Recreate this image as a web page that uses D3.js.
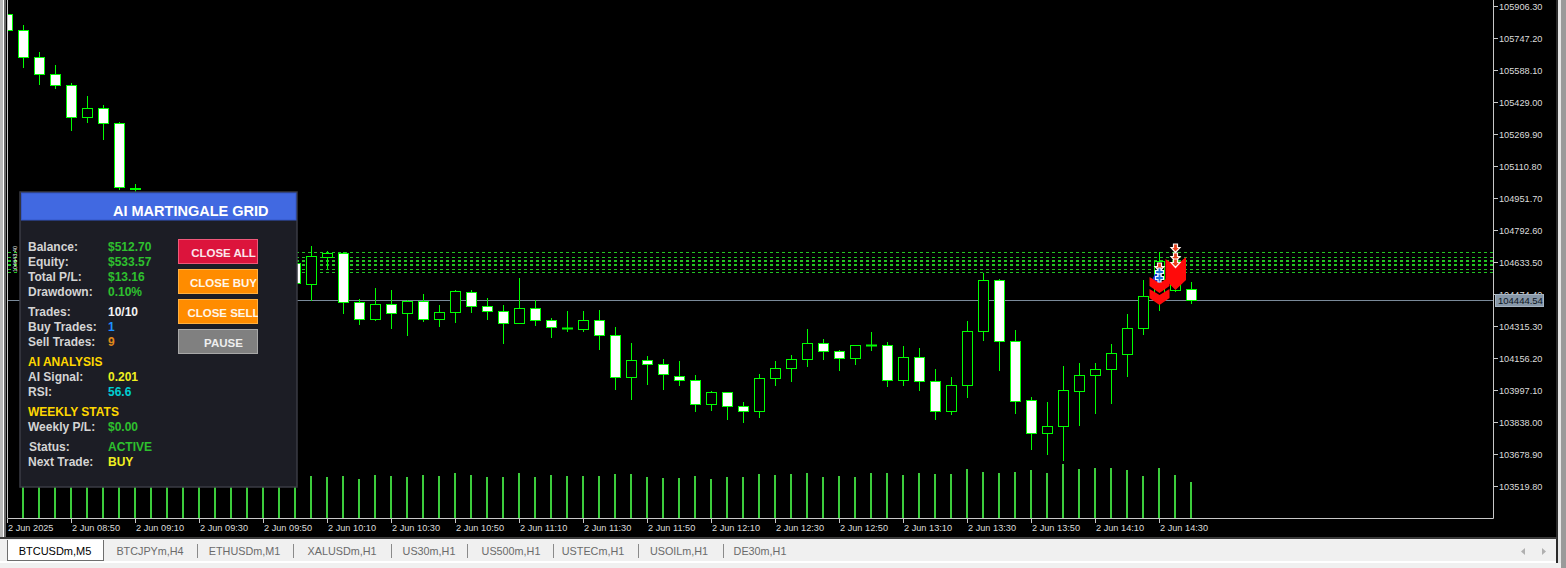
<!DOCTYPE html>
<html><head><meta charset="utf-8">
<script src="https://cdn.jsdelivr.net/npm/d3@7"></script>
<style>html,body{margin:0;padding:0;background:#f0f0f0;overflow:hidden}svg{display:block}</style>
</head><body><svg id="c" width="1566" height="568"></svg>
<script>
// ---------- DATA ----------
const symbolTitle = "BTCUSDm,M5";
const candleOpen = [105866.5,105787.0,105652.7,105568.2,105513.5,105354.4,105399.2,105324.6,104998.9,104966.6,
104916.9,104946.7,104812.5,104737.9,104777.7,104683.2,104713.1,104648.4,104628.5,104524.1,
104659.9,104678.3,104434.6,104350.1,104424.7,104379.9,104439.6,104350.1,104384.9,104484.3,
104414.7,104389.9,104330.2,104404.8,104345.1,104307.8,104301.9,104345.1,104270.6,104061.7,
104146.3,104126.4,104066.7,104046.8,103927.5,103987.2,103917.6,103892.7,104056.8,104106.5,
104151.2,104230.8,104191.0,104156.2,104220.8,104220.8,104046.8,104161.2,104041.9,103892.7,
104022.0,104290.4,104544.0,104240.7,103947.4,103783.3,103818.1,103992.1,104071.7,104101.5,
104176.1,104305.4,104464.5,104494.3,104499.3];
const candleHigh = [105876.5,105811.8,105677.6,105613.0,105523.5,105458.8,105414.1,105329.6,105021.3,104976.6,
104961.6,104956.7,104842.3,104802.5,104792.6,104742.9,104728.0,104693.2,104653.4,104713.1,
104688.2,104683.2,104449.5,104504.2,104494.3,104442.1,104474.4,104419.7,104494.3,104494.3,
104454.5,104419.7,104554.0,104444.6,104355.1,104389.9,104389.9,104394.9,104310.3,104230.8,
104166.1,104151.2,104141.3,104071.7,103992.1,103989.6,103937.4,104076.7,104141.3,104171.1,
104300.4,104250.7,104193.5,104223.3,104285.5,104235.8,104215.9,104205.9,104101.5,104061.7,
104340.2,104578.8,104549.0,104295.4,103962.3,103937.4,104116.4,104131.3,104131.3,104225.8,
104375.0,104544.0,104683.2,104683.2,104534.1];
const candleLow = [105782.0,105603.0,105518.5,105498.6,105289.8,105329.6,105245.0,104996.5,104916.9,104867.2,
104872.2,104782.7,104703.1,104713.1,104653.4,104663.3,104613.6,104603.7,104514.2,104444.6,
104603.7,104379.9,104325.2,104345.1,104305.4,104270.6,104340.2,104315.3,104335.2,104384.9,
104350.1,104230.8,104330.2,104320.3,104260.6,104290.4,104290.4,104201.0,104002.1,103952.4,
104026.9,104002.1,104022.0,103892.7,103897.7,103852.9,103838.0,103862.9,104022.0,104041.9,
104116.4,104151.2,104096.5,104126.4,104196.0,104017.0,104022.0,103997.1,103852.9,103877.8,
103962.3,104245.7,104096.5,103882.8,103703.8,103678.9,103649.1,103823.1,103882.8,103932.5,
104066.7,104275.5,104394.9,104489.3,104429.7];
const candleClose = [105787.0,105652.7,105568.2,105513.5,105354.4,105399.2,105324.6,105006.4,105003.9,104916.9,
104946.7,104812.5,104737.9,104777.7,104683.2,104713.1,104648.4,104628.5,104529.1,104663.3,
104676.8,104434.6,104350.1,104424.7,104379.9,104439.6,104350.1,104384.9,104489.3,104414.7,
104389.9,104330.2,104404.8,104345.1,104310.3,104305.4,104343.6,104270.6,104061.7,104146.3,
104126.4,104076.7,104046.8,103927.5,103987.2,103917.6,103892.7,104056.8,104106.5,104151.2,
104230.8,104191.0,104156.2,104220.8,104220.8,104046.8,104161.2,104041.9,103892.7,104022.0,
104290.4,104544.0,104240.7,103942.4,103783.3,103818.1,103997.1,104071.7,104101.5,104181.1,
104305.4,104464.5,104638.5,104529.1,104444.54];
const tickVolume = [420,420,430,400,440,420,410,430,440,420,400,430,420,440,410,420,430,450,420,420,
410,420,390,430,420,410,430,420,450,430,410,410,450,410,430,420,420,420,440,440,
410,400,400,420,390,410,410,440,430,440,450,410,420,410,450,450,430,450,440,440,
490,460,450,460,480,450,540,490,500,500,480,420,500,430,360];
const timeLabelIndex = [0,4,8,12,16,20,24,28,32,36,40,44,48,52,56,60,64,68,72];
const timeLabels = ["2 Jun 2025","2 Jun 08:50","2 Jun 09:10","2 Jun 09:30","2 Jun 09:50","2 Jun 10:10","2 Jun 10:30",
"2 Jun 10:50","2 Jun 11:10","2 Jun 11:30","2 Jun 11:50","2 Jun 12:10","2 Jun 12:30","2 Jun 12:50","2 Jun 13:10",
"2 Jun 13:30","2 Jun 13:50","2 Jun 14:10","2 Jun 14:30"];
const priceTicks = [105906.30,105747.20,105588.10,105429.00,105269.90,105110.80,104951.70,104792.60,104633.50,
104474.40,104315.30,104156.20,103997.10,103838.00,103678.90,103519.80];
const gridLevels = [104683.2,104658.4,104643.4,104638.5,104623.6,104618.6,104600.2,104582.3];
const currentPrice = 104444.54;
const chevronIndex = [72,72];
const chevronPrice = [104559.0,104499.3];
const tallArrowIndex = [73];
const tallArrowPrice = [104658.4];
const buyZoneIndex = [72];
const buyZonePrice = [104524.1];
const sellIconIndex = [72,73,73,73];
const sellIconPrice = [104608.6,104703.1,104658.4,104628.5];
const buyIconIndex = [72,72];
const buyIconPrice = [104583.8,104554.0];
const tabNames = ["BTCUSDm,M5","BTCJPYm,H4","ETHUSDm,M1","XALUSDm,H1","US30m,H1","US500m,H1","USTECm,H1","USOILm,H1","DE30m,H1"];
const panelTitle = "AI MARTINGALE GRID";
const panelLabels = ["Balance:","Equity:","Total P/L:","Drawdown:","Trades:","Buy Trades:","Sell Trades:","AI ANALYSIS","AI Signal:","RSI:","WEEKLY STATS","Weekly P/L:","Status:","Next Trade:"];
const panelValues = ["$512.70","$533.57","$13.16","0.10%","10/10","1","9","","0.201","56.6","","$0.00","ACTIVE","BUY"];
const buttonLabels = ["CLOSE ALL","CLOSE BUY","CLOSE SELL","PAUSE"];

// ---------- STYLE ----------
const svg = d3.select("#c");
const FONT = "'Liberation Sans', Arial, sans-serif";
const GREEN = "#00ff00";
const plotL = 7, plotR = 1493, plotB = 518;

const x = d3.scaleLinear().domain([0, 74]).range([7, 7 + 16 * 74]);
const y = d3.scaleLinear().domain([103519.8, 105906.3]).range([486, 6]);
const yv = d3.scaleLinear().domain([0, 1000]).range([plotB, plotB - 100]);

// window background
svg.append("rect").attr("width",1566).attr("height",568).attr("fill","#f0f0f0");
svg.append("rect").attr("x",0).attr("y",0).attr("width",1557).attr("height",538).attr("fill","#000");
svg.append("rect").attr("x",0).attr("y",0).attr("width",3).attr("height",538).attr("fill","#b8b8b8");
svg.append("rect").attr("x",3).attr("y",0).attr("width",1).attr("height",538).attr("fill","#ffffff");
svg.append("rect").attr("x",4).attr("y",0).attr("width",2).attr("height",538).attr("fill","#6a6a6a");
svg.append("rect").attr("x",1556).attr("y",0).attr("width",2).attr("height",563).attr("fill","#2a2a2a");
svg.append("rect").attr("x",1558).attr("y",0).attr("width",3).attr("height",563).attr("fill","#e6e6e6");
svg.append("rect").attr("x",1561).attr("y",0).attr("width",5).attr("height",568).attr("fill","#9a9a9a");
svg.append("rect").attr("x",0).attr("y",537).attr("width",1557).attr("height",2).attr("fill","#3a3a3a");

const defs = svg.append("defs");
defs.append("clipPath").attr("id","plot").append("rect").attr("x",plotL+1).attr("y",0).attr("width",plotR-plotL-1).attr("height",plotB);

const plot = svg.append("g").attr("clip-path","url(#plot)");

// grid level dotted lines
plot.selectAll("line.lvl").data(gridLevels).join("line").attr("class","lvl")
  .attr("x1",8).attr("x2",plotR).attr("y1",d=>Math.round(y(d))+0.5).attr("y2",d=>Math.round(y(d))+0.5)
  .attr("stroke","#22c422").attr("stroke-width",1).attr("stroke-dasharray","3,3");

// bid line
plot.append("line").attr("x1",plotL).attr("x2",plotR)
  .attr("y1",Math.round(y(currentPrice))+0.5).attr("y2",Math.round(y(currentPrice))+0.5)
  .attr("stroke","#7a8a9a").attr("stroke-width",1);

// volumes
plot.selectAll("line.vol").data(tickVolume).join("line").attr("class","vol")
  .attr("x1",(d,i)=>x(i)).attr("x2",(d,i)=>x(i))
  .attr("y1",plotB).attr("y2",d=>Math.round(yv(d)))
  .attr("stroke","#3ccc3c").attr("stroke-width",2);

// candles
const idx = d3.range(candleOpen.length);
const cg = plot.append("g");
idx.forEach(i=>{
  const cx = x(i);
  const o = candleOpen[i], c = candleClose[i];
  const top = Math.round(y(Math.max(o,c))), bot = Math.round(y(Math.min(o,c)));
  const bull = c >= o;
  cg.append("line").attr("x1",cx+0.5).attr("x2",cx+0.5)
    .attr("y1",Math.round(y(candleHigh[i]))).attr("y2",Math.round(y(candleLow[i]))+1)
    .attr("stroke",GREEN).attr("stroke-width",1);
  if (bot - top < 1) {
    cg.append("line").attr("x1",cx-5).attr("x2",cx+6).attr("y1",top+0.5).attr("y2",top+0.5)
      .attr("stroke",GREEN).attr("stroke-width",2);
  } else {
    cg.append("rect").attr("x",cx-4.5).attr("y",top+0.5).attr("width",10).attr("height",bot-top)
      .attr("fill",bull?"#000":"#ffffff").attr("stroke",GREEN).attr("stroke-width",1);
  }
});

// markers
const mg = plot.append("g");
buyZoneIndex.forEach((ii,k)=>{
  const cx = x(ii), yy = y(buyZonePrice[k]);
  mg.append("polygon").attr("points",[[cx-9,yy],[cx-3,yy-12],[cx+1,yy-12],[cx+1,yy]].join(" ")).attr("fill","#1030e0");
});
chevronIndex.forEach((ii,k)=>{
  const cx = x(ii)+0.5, yy = y(chevronPrice[k]);
  const pts = [[cx-10,yy],[cx,yy+6],[cx+10,yy],[cx+10,yy+9],[cx,yy+16],[cx-10,yy+9]];
  mg.append("polygon").attr("points",pts.join(" ")).attr("fill","#ff0a0a");
});
tallArrowIndex.forEach((ii,k)=>{
  const cx = x(ii)+0.5, yy = y(tallArrowPrice[k]);
  const pts = [[cx-10,yy+2],[cx,yy+9],[cx+10.5,yy],[cx+10.5,yy+23],[cx,yy+33],[cx-10,yy+23]];
  mg.append("polygon").attr("points",pts.join(" ")).attr("fill","#ff0a0a");
});
sellIconIndex.forEach((ii,k)=>{
  const cx = x(ii)+0.5, yy = y(sellIconPrice[k]);
  const p = `M${cx-2},${yy-4} L${cx+2},${yy-4} L${cx+2},${yy-0.5} L${cx+4.5},${yy-0.5} L${cx},${yy+4.5} L${cx-4.5},${yy-0.5} L${cx-2},${yy-0.5} Z`;
  mg.append("path").attr("d",p).attr("fill","#e8401c").attr("stroke","#fff4f0").attr("stroke-width",1.2);
});
buyIconIndex.forEach((ii,k)=>{
  const cx = x(ii)+0.5, yy = y(buyIconPrice[k]);
  const p = `M${cx-1.5},${yy-4} L${cx+1.5},${yy-4} L${cx+1.5},${yy-1.5} L${cx+4},${yy-1.5} L${cx+4},${yy+1.5} L${cx+1.5},${yy+1.5} L${cx+1.5},${yy+4} L${cx-1.5},${yy+4} L${cx-1.5},${yy+1.5} L${cx-4},${yy+1.5} L${cx-4},${yy-1.5} L${cx-1.5},${yy-1.5} Z`;
  mg.append("path").attr("d",p).attr("fill","#1c70d8").attr("stroke","#f0f4ff").attr("stroke-width",1.2);
});

// small rotated label at the left of level lines
plot.append("text").attr("transform",`translate(17,${Math.round(y(gridLevels[7]))}) rotate(-90)`)
  .attr("font-family",FONT).attr("font-size",5.5).attr("fill","#ffffff").text(gridLevels[2].toFixed(2));

// plot frame
svg.append("path").attr("d",`M${plotL+0.5},0 V${plotB+0.5} H${plotR+0.5} V0`)
  .attr("fill","none").attr("stroke","#c8c8c8").attr("stroke-width",1);

// price axis
const pa = svg.append("g");
priceTicks.forEach(p=>{
  const yy = Math.round(y(p))+0.5;
  pa.append("line").attr("x1",plotR+1).attr("x2",plotR+5).attr("y1",yy).attr("y2",yy).attr("stroke","#c8c8c8");
  pa.append("text").attr("x",plotR+6).attr("y",yy+3.5).attr("font-family",FONT).attr("font-size",9.2)
    .attr("fill","#dcdcdc").text(p.toFixed(2));
});
{
  const yy = Math.round(y(currentPrice));
  pa.append("rect").attr("x",plotR+2.5).attr("y",yy-5.5).attr("width",48).attr("height",12)
    .attr("fill","#8797a8").attr("stroke","#a6b4c2").attr("stroke-width",1);
  pa.append("text").attr("x",plotR+5).attr("y",yy+4).attr("font-family",FONT).attr("font-size",9.5)
    .attr("fill","#0c1422").text(currentPrice.toFixed(2));
}

// time axis
const ta = svg.append("g");
timeLabelIndex.forEach((ii,k)=>{
  const tx = x(ii)+0.5;
  ta.append("line").attr("x1",tx).attr("x2",tx).attr("y1",plotB+1).attr("y2",plotB+5).attr("stroke","#c8c8c8");
  ta.append("text").attr("x",tx+0.5).attr("y",530.5).attr("font-family",FONT).attr("font-size",9.2)
    .attr("fill","#dcdcdc").text(timeLabels[k]);
});

// tabs
const tabCenters = [55,150,244.5,342,429,511,593,679,760];
const tabSeps = [197,293,391,467,553,638,723];
const tb = svg.append("g");
tb.append("rect").attr("x",0).attr("y",539).attr("width",1556).attr("height",22).attr("fill","#f0f0f0");
tb.append("rect").attr("x",0).attr("y",561).attr("width",1556).attr("height",2).attr("fill","#ffffff");
tb.append("rect").attr("x",7.5).attr("y",540.5).attr("width",96).attr("height",20).attr("fill","#ffffff").attr("stroke","#6e6e6e");
tb.append("line").attr("x1",8).attr("x2",103).attr("y1",540.5).attr("y2",540.5).attr("stroke","#ffffff");
tabNames.forEach((t,k)=>{
  tb.append("text").attr("x",tabCenters[k]).attr("y",555).attr("text-anchor","middle")
    .attr("font-family",FONT).attr("font-size",k===0?11:10.8).attr("fill",k===0?"#000":"#6a6a6a").text(t);
});
tabSeps.forEach(s=>{
  tb.append("line").attr("x1",s+0.5).attr("x2",s+0.5).attr("y1",544).attr("y2",558).attr("stroke","#8a8a8a");
});
tb.append("path").attr("d","M1525,548 L1521,551.5 L1525,555 Z").attr("fill","#b0b0b0");
tb.append("path").attr("d","M1542,548 L1546,551.5 L1542,555 Z").attr("fill","#b0b0b0");

// ---------- PANEL ----------
const pn = svg.append("g");
pn.append("rect").attr("x",20).attr("y",192).attr("width",277).attr("height",295)
  .attr("fill","#1c1d25").attr("stroke","#3a3b44").attr("stroke-width",1.5);
pn.append("rect").attr("x",21.5).attr("y",193).attr("width",274.5).attr("height",27)
  .attr("fill","#4169e1").attr("stroke","#3558c8").attr("stroke-width",1);
pn.append("text").attr("x",113).attr("y",215.5).attr("font-family",FONT).attr("font-weight","bold")
  .attr("font-size",14.5).attr("fill","#ffffff").text(panelTitle);

const rowBase = [251,266,281,296,316,331,346,366,381,396,416,431,451,466];
const labelColor = ["#d4d4d4","#d4d4d4","#d4d4d4","#d4d4d4","#d4d4d4","#d4d4d4","#d4d4d4","#ffd700","#d4d4d4","#d4d4d4","#ffd700","#d4d4d4","#d4d4d4","#d4d4d4"];
const valueColor = ["#2ec02e","#2ec02e","#2ec02e","#2ec02e","#f2f2f2","#1e90ff","#e08a1a","#fff","#f0f020","#00ced1","#fff","#2ec02e","#2ec02e","#f0f020"];
panelLabels.forEach((t,k)=>{
  pn.append("text").attr("x",k===12?29:28).attr("y",rowBase[k]).attr("font-family",FONT).attr("font-weight","bold")
    .attr("font-size",12).attr("fill",labelColor[k]).text(t);
  if (panelValues[k]) pn.append("text").attr("x",108).attr("y",rowBase[k]).attr("font-family",FONT).attr("font-weight","bold")
    .attr("font-size",12).attr("fill",valueColor[k]).text(panelValues[k]);
});

const btnY = [239,269,299,329];
const btnFill = ["#dc143c","#ff8c00","#ff8c00","#808080"];
const btnHi = ["#f0587a","#ffb040","#ffb040","#a8a8a8"];
const btnText = ["#fbe6ec","#fff6ea","#fff6ea","#eeeeee"];
buttonLabels.forEach((t,k)=>{
  const id = "bc"+k;
  defs.append("clipPath").attr("id",id).append("rect").attr("x",178).attr("y",btnY[k]).attr("width",80).attr("height",25);
  pn.append("rect").attr("x",178.5).attr("y",btnY[k]+0.5).attr("width",79).attr("height",24)
    .attr("fill",btnFill[k]).attr("stroke",btnHi[k]).attr("stroke-width",1);
  pn.append("text").attr("clip-path",`url(#${id})`).attr("x",223.5).attr("y",btnY[k]+17.5).attr("text-anchor","middle")
    .attr("font-family",FONT).attr("font-weight","bold").attr("font-size",11.5).attr("fill",btnText[k]).text(t);
});
</script></body></html>
